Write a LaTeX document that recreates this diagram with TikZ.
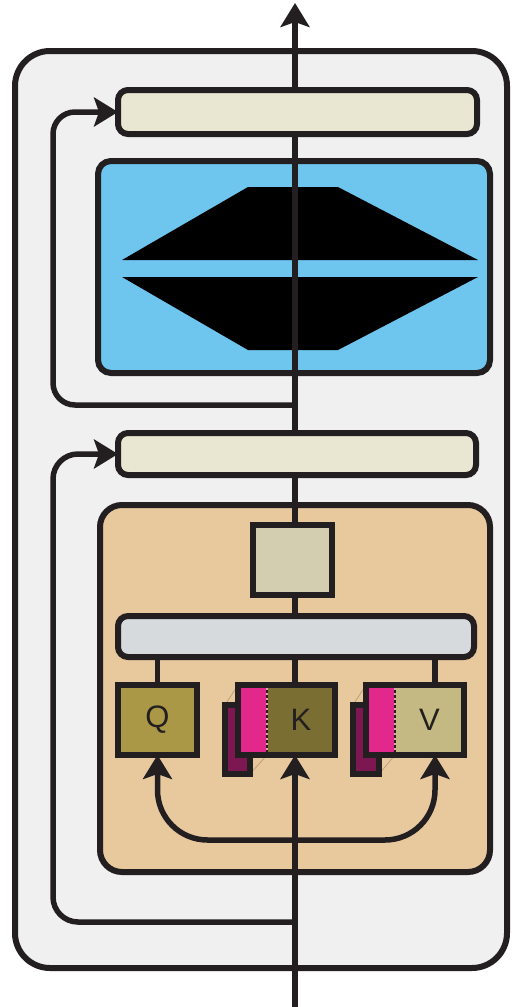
\documentclass[tikz,border=0pt]{standalone}
\usepackage{fontspec}
\setmainfont{Liberation Sans}
\usetikzlibrary{arrows.meta,fit}
\definecolor{ink}{HTML}{231F20}
\definecolor{outerc}{HTML}{F0F0F0}
\definecolor{normc}{HTML}{E9E7D1}
\definecolor{ffnc}{HTML}{6EC6EF}
\definecolor{attnc}{HTML}{E8C89D}
\definecolor{sqc}{HTML}{D4CEB1}
\definecolor{gbarc}{HTML}{D6DADC}
\definecolor{qc}{HTML}{AB9847}
\definecolor{kc}{HTML}{7B6E32}
\definecolor{vc}{HTML}{C4B883}
\definecolor{mag}{HTML}{E3288B}
\definecolor{darkmag}{HTML}{7D1752}
\definecolor{sepc}{HTML}{E8A0B0}
\definecolor{foldc}{HTML}{B9A27E}
\pgfdeclarelayer{back}
\pgfdeclarelayer{mid}
\pgfsetlayers{back,mid,main}
\tikzset{
  box/.style={draw=ink, line width=6pt, inner sep=0pt, outer sep=0pt},
  bar/.style={box, rounded corners=10pt, fill=normc},
  conn/.style={draw=ink, line width=5.5pt},
  arr/.style={conn, -{Stealth[length=24pt,width=29pt,inset=5pt]}},
  lbl/.style={font=\fontsize{31}{33}\selectfont, text=ink},
  part/.style={inner sep=0pt, outer sep=0pt, minimum height=70pt},
  backbox/.style={box, fill=darkmag, minimum width=25pt, minimum height=69pt},
  fold/.style={draw=foldc, line width=0.8pt},
  sepline/.style={line width=2.5pt, draw=sepc},
  sepdash/.style={line width=2.5pt, draw=ink, dash pattern=on 2.5pt off 2.5pt}
}
\begin{document}
\begin{tikzpicture}[x=1pt,y=-1pt]
\useasboundingbox (0,0) rectangle (516,1007);
\begin{pgfonlayer}{back}
  \fill[white] (0,0) rectangle (516,1007);
  \node[box, fill=outerc, rounded corners=35pt, minimum width=492pt, minimum height=917pt] (outer) at (261,509.5) {};
  \node[box, fill=ffnc, rounded corners=13pt, minimum width=392pt, minimum height=212pt] (ffn) at (294,267) {};
  \node[box, fill=attnc, rounded corners=22pt, minimum width=390pt, minimum height=367pt] (attn) at (295,688.5) {};
  \fill[black] (122,260) -- (248,187) -- (338,187) -- (478,260) -- cycle;
  \fill[black] (122,277) -- (478,277) -- (338,350) -- (248,350) -- cycle;
\end{pgfonlayer}

% blocks
\node[bar, minimum width=359pt, minimum height=44pt] (norm2) at (297.5,112) {};
\node[bar, minimum width=358pt, minimum height=42pt] (norm1) at (297,454) {};
\node[box, fill=sqc, minimum width=79pt, minimum height=70pt] (sq) at (292.5,560) {};
\node[bar, fill=gbarc, minimum width=356pt, minimum height=41pt] (gbar) at (296,636.5) {};
\node[box, fill=qc, minimum width=79pt, minimum height=70pt, lbl] (Q) at (157.5,720) {Q};

% K
\node[backbox] (Kb) at (237.5,739.5) {};
\node[part, fill=mag, minimum width=29pt] (Km) at (252.5,720) {};
\node[part, fill=kc, minimum width=68pt, lbl] (Kl) at (301,720) {K};
\draw[sepline] (Km.north east) -- (Km.south east);
\draw[sepdash] (Km.north east) -- (Km.south east);
\node[box, fit=(Km)(Kl)] (K) {};

% V
\node[backbox, minimum width=26pt] (Vb) at (366,739.5) {};
\node[part, fill=mag, minimum width=29pt] (Vm) at (380.5,720) {};
\node[part, fill=vc, minimum width=69pt, lbl] (Vl) at (429.5,720) {V};
\draw[sepline] (Vm.north east) -- (Vm.south east);
\draw[sepdash] (Vm.north east) -- (Vm.south east);
\node[box, fit=(Vm)(Vl)] (V) {};

% connectors
\coordinate (in) at (295,1007);
\coordinate (top) at (295,3);
\coordinate (vx) at (435,0);
\coordinate (lx) at (53,0);
\coordinate (r1) at (295,405);
\coordinate (r2) at (295,922);
\coordinate (split) at (295,840);
\begin{pgfonlayer}{mid}
  \draw[fold] (Kb.north west) -- (K.north west);
  \draw[fold] (Kb.south east) -- (Km.south east);
  \draw[fold] (Vb.north west) -- (V.north west);
  \draw[fold] (Vb.south east) -- (Vm.south east);
  \draw[arr] (in) -- (in |- K.south);
  \draw[conn] (K.north -| in) -- (gbar.south -| in);
  \draw[conn] (Q.north) -- (Q.north |- gbar.south);
  \draw[conn] (vx |- V.north) -- (vx |- gbar.south);
  \draw[conn] (gbar.north -| in) -- (sq.south -| in);
  \draw[conn] (sq.north -| in) -- (norm1.south -| in);
  \draw[conn] (norm1.north -| in) -- (norm2.south -| in);
  \draw[arr] (norm2.north -| in) -- (top);
  \draw[arr, rounded corners=22pt] (r1) -| (lx |- norm2.west) -- (norm2.west);
  \draw[arr, rounded corners=25pt] (r2) -| (lx |- norm1.west) -- (norm1.west);
  \draw[arr, rounded corners=50pt] (split) -| (Q.south);
  \draw[arr, rounded corners=50pt] (split) -| (vx |- V.south);
\end{pgfonlayer}
\end{tikzpicture}
\end{document}
